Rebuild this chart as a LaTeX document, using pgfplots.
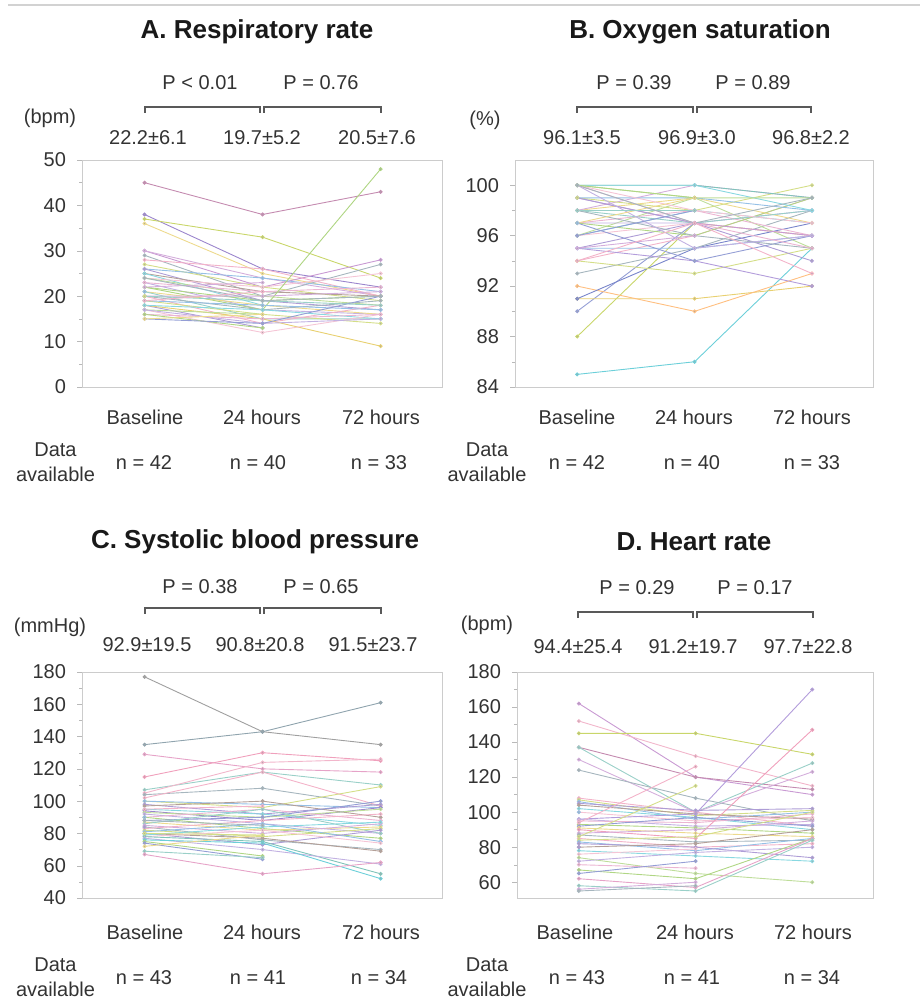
\documentclass[border=0pt]{standalone}
\usepackage{fontspec}
\setmainfont{Liberation Sans}
\usepackage{pgfplots}
\pgfplotsset{compat=1.18}
\definecolor{c1}{HTML}{E6A3C8}
\definecolor{c2}{HTML}{B39DDB}
\definecolor{c3}{HTML}{9CCC65}
\definecolor{c4}{HTML}{C9D66A}
\definecolor{c5}{HTML}{6CCFD9}
\definecolor{c6}{HTML}{7986CB}
\definecolor{c7}{HTML}{F0A0BC}
\definecolor{c8}{HTML}{A1887F}
\definecolor{c9}{HTML}{80C4BA}
\definecolor{c10}{HTML}{C99AD3}
\definecolor{c11}{HTML}{E8D070}
\definecolor{c12}{HTML}{90A4AE}
\definecolor{c13}{HTML}{AED581}
\definecolor{c14}{HTML}{F2B6CB}
\definecolor{c15}{HTML}{9A84CC}
\definecolor{c16}{HTML}{7AB0E0}
\definecolor{mauve}{HTML}{C48BB0}
\pgfplotscreateplotcyclelist{pat}{c1!80!white\\c3!80!white\\c6!80!white\\c11!80!white\\c9!80!white\\c10!80!white\\c12!80!white\\c7!80!white\\c4!80!white\\c16!80!white\\c15!80!white\\c8!80!white\\c5!80!white\\c14!80!white\\c13!80!white\\c2!80!white\\}
\newcommand\pat[4][]{\addplot+[#1] coordinates {(0,#2) (1,#3) (2,#4)};}
\pgfplotsset{panel/.style={scale only axis, xmin=-0.53, xmax=2.52, xtick=\empty,
  axis line style={gray!40}, tick style={gray!55}, tick align=outside,
  major tick length=2.5pt, minor tick length=1.5pt, ytick pos=left, minor y tick num=1,
  yticklabel style={font=\fontsize{10}{12}\selectfont, text=black!80, xshift=-2pt},
  /pgf/number format/assume math mode=true,
  cycle list name=pat,
  every axis plot post/.append style={line width=0.45pt, mark=*, mark size=0.75pt, mark options={draw=none, fill=gray!70}}}}
\tikzset{lab/.style={font=\fontsize{10}{12.5}\selectfont, text=black!80, inner sep=0pt, align=center},
  ttl/.style={font=\fontsize{13}{15}\selectfont\bfseries, text=black!90, inner sep=0pt},
  brk/.style={draw=black!65, line width=0.6pt}}
\begin{document}
\begin{tikzpicture}
\path (0,0) rectangle (460pt,499.5pt);
\draw[gray!35, line width=1pt] (4pt,497pt) -- (460pt,497pt);
% ---------------- A
\begin{axis}[panel, at={(41pt,306pt)}, anchor=south west, width=180pt, height=113.5pt,
  ymin=0, ymax=50, ytick={0,10,...,50}]
\pat[mauve]{45}{38}{43}
\pat[c15]{38}{26}{22}
\pat[c4]{37}{33}{24}
\pat{36}{25}{20}
\pat[c10]{30}{22}{28}
\pat{30}{24}{20}
\pat{29}{20}{27}
\pat{28}{26}{20}
\pat{27}{22}{19}
\pat{26}{24}{21}
\pat{26}{19}{17}
\pat{25}{21}{20}
\pat{25}{18}{nan}
\pat{24}{22}{25}
\pat{24}{20}{18}
\pat{23}{17}{16}
\pat{23}{21}{22}
\pat{22}{19}{20}
\pat[c13]{22}{17}{48}
\pat{21}{18}{16}
\pat{21}{15}{15}
\pat{20}{20}{21}
\pat{20}{17}{19}
\pat{20}{14}{18}
\pat{19}{16}{14}
\pat{19}{18}{17}
\pat{18}{13}{nan}
\pat[c11]{18}{15}{9}
\pat{18}{17}{15}
\pat{17}{12}{16}
\pat{17}{16}{nan}
\pat{17}{14}{15}
\pat{16}{15}{16}
\pat{16}{13}{nan}
\pat{15}{14}{20}
\pat{15}{16}{nan}
\pat{20}{19}{18}
\pat{22}{23}{nan}
\pat{24}{19}{20}
\pat{19}{21}{nan}
\pat{20}{nan}{nan}
\pat{21}{nan}{nan}
\end{axis}
% ---------------- B
\begin{axis}[panel, at={(257.5pt,306pt)}, anchor=south west, width=179pt, height=113.5pt,
  ymin=84, ymax=102, ytick={84,88,...,100}]
\pat[c5]{85}{86}{95}
\pat[c4]{88}{97}{96}
\pat{90}{97}{nan}
\pat[c11]{91}{91}{92}
\pat[orange!50]{92}{90}{93}
\pat[c6]{91}{95}{97}
\pat{93}{95}{98}
\pat{94}{96}{99}
\pat{94}{93}{95}
\pat{95}{95}{96}
\pat{95}{97}{94}
\pat[c2]{95}{94}{92}
\pat{96}{98}{97}
\pat{96}{97}{96}
\pat{96}{99}{95}
\pat{97}{97}{98}
\pat{97}{98}{96}
\pat{97}{96}{99}
\pat{97}{94}{96}
\pat{98}{99}{97}
\pat{98}{97}{98}
\pat{98}{100}{99}
\pat{98}{96}{95}
\pat[c10]{99}{97}{96}
\pat{99}{98}{100}
\pat{99}{99}{98}
\pat{99}{97}{nan}
\pat[c9]{100}{100}{99}
\pat{100}{100}{98}
\pat{100}{98}{97}
\pat{100}{99}{99}
\pat{100}{95}{96}
\pat{100}{97}{95}
\pat{100}{99}{nan}
\pat{96}{98}{nan}
\pat{97}{99}{nan}
\pat{98}{98}{nan}
\pat{95}{96}{nan}
\pat{100}{97}{99}
\pat{94}{97}{93}
\pat{99}{nan}{nan}
\pat{97}{nan}{nan}
\end{axis}
% ---------------- C
\begin{axis}[panel, at={(41pt,50.5pt)}, anchor=south west, width=180pt, height=113pt,
  ymin=40, ymax=180, ytick={40,60,...,180}]
\pat[gray!75]{177}{143}{135}
\pat[c12]{135}{143}{161}
\pat[c1]{129}{120}{118}
\pat[c7]{115}{130}{125}
\pat{107}{118}{110}
\pat[c14]{105}{124}{126}
\pat{104}{108}{97}
\pat{102}{118}{97}
\pat{100}{96}{109}
\pat{100}{98}{96}
\pat{98}{92}{98}
\pat{97}{100}{90}
\pat{95}{92}{85}
\pat[c15]{94}{88}{96}
\pat{93}{90}{95}
\pat{92}{86}{80}
\pat{90}{95}{88}
\pat{90}{83}{77}
\pat{88}{90}{100}
\pat{87}{82}{84}
\pat{86}{95}{80}
\pat{85}{80}{86}
\pat{84}{76}{70}
\pat{83}{88}{92}
\pat{82}{78}{83}
\pat{81}{86}{75}
\pat{80}{73}{82}
\pat{80}{77}{69}
\pat{79}{84}{87}
\pat{78}{82}{74}
\pat[c9]{78}{75}{55}
\pat{77}{70}{61}
\pat[c5]{76}{74}{52}
\pat{75}{66}{nan}
\pat{74}{64}{nan}
\pat{72}{79}{nan}
\pat{69}{65}{nan}
\pat[c1]{67}{55}{62}
\pat{88}{85}{nan}
\pat{95}{97}{nan}
\pat{80}{79}{nan}
\pat{90}{nan}{nan}
\pat{84}{nan}{nan}
\end{axis}
% ---------------- D
\begin{axis}[panel, at={(258.5pt,50.5pt)}, anchor=south west, width=178pt, height=113pt,
  ymin=51, ymax=180, ytick={60,80,...,180}]
\pat[c10]{162}{120}{110}
\pat[c14]{152}{132}{115}
\pat[c4]{145}{145}{133}
\pat[mauve]{137}{120}{113}
\pat{137}{100}{128}
\pat{130}{100}{123}
\pat{124}{108}{95}
\pat{108}{100}{92}
\pat{107}{98}{101}
\pat{106}{96}{100}
\pat{105}{101}{102}
\pat{104}{99}{96}
\pat{102}{97}{90}
\pat{100}{95}{97}
\pat[c2]{96}{99}{170}
\pat{96}{92}{93}
\pat{95}{94}{99}
\pat{93}{91}{88}
\pat{92}{97}{92}
\pat{91}{88}{86}
\pat[c7]{90}{85}{147}
\pat{88}{90}{95}
\pat{87}{83}{84}
\pat{85}{80}{82}
\pat{84}{86}{100}
\pat{83}{78}{85}
\pat{82}{80}{74}
\pat{80}{82}{90}
\pat{78}{75}{72}
\pat{76}{79}{nan}
\pat{74}{65}{60}
\pat{72}{77}{80}
\pat{70}{68}{nan}
\pat{67}{62}{85}
\pat{65}{72}{nan}
\pat[c1]{62}{57}{85}
\pat{58}{55}{84}
\pat{56}{60}{nan}
\pat{55}{58}{nan}
\pat{94}{126}{nan}
\pat{86}{115}{nan}
\pat{100}{nan}{nan}
\pat{80}{nan}{nan}
\end{axis}
% ---------------- texts A
\node[ttl] at (128.5pt,483.5pt) {A. Respiratory rate};
\node[lab] at (100pt,458pt) {P < 0.01};
\node[lab] at (160.5pt,458pt) {P = 0.76};
\draw[brk] (72.5pt,443pt) |- (130pt,446pt) -- (130pt,443pt);
\draw[brk] (132pt,443pt) |- (190.5pt,446pt) -- (190.5pt,443pt);
\node[lab] at (25pt,440.5pt) {(bpm)};
\node[lab] at (74pt,430.5pt) {22.2±6.1};
\node[lab] at (131pt,430.5pt) {19.7±5.2};
\node[lab] at (188.5pt,430.5pt) {20.5±7.6};
\node[lab] at (72.5pt,291pt) {Baseline};
\node[lab] at (131pt,291pt) {24 hours};
\node[lab] at (190.5pt,291pt) {72 hours};
\node[lab] at (27.75pt,268.25pt) {Data\\available};
\node[lab] at (72pt,268pt) {n = 42};
\node[lab] at (129pt,268pt) {n = 40};
\node[lab] at (189.5pt,268pt) {n = 33};
% ---------------- texts B
\node[ttl] at (350pt,483.5pt) {B. Oxygen saturation};
\node[lab] at (317pt,458pt) {P = 0.39};
\node[lab] at (376.5pt,458pt) {P = 0.89};
\draw[brk] (288.5pt,443pt) |- (346.5pt,446pt) -- (346.5pt,443pt);
\draw[brk] (348.5pt,443pt) |- (405.5pt,446pt) -- (405.5pt,443pt);
\node[lab] at (242.5pt,439.5pt) {(\%)};
\node[lab] at (291pt,430.5pt) {96.1±3.5};
\node[lab] at (348.5pt,430.5pt) {96.9±3.0};
\node[lab] at (405.5pt,430.5pt) {96.8±2.2};
\node[lab] at (288.5pt,291pt) {Baseline};
\node[lab] at (347pt,291pt) {24 hours};
\node[lab] at (406pt,291pt) {72 hours};
\node[lab] at (243.5pt,268.25pt) {Data\\available};
\node[lab] at (288.5pt,268pt) {n = 42};
\node[lab] at (346pt,268pt) {n = 40};
\node[lab] at (406pt,268pt) {n = 33};
% ---------------- texts C
\node[ttl] at (127.5pt,228.5pt) {C. Systolic blood pressure};
\node[lab] at (100pt,206pt) {P = 0.38};
\node[lab] at (160.5pt,206pt) {P = 0.65};
\draw[brk] (72.5pt,192.5pt) |- (130pt,195.5pt) -- (130pt,192.5pt);
\draw[brk] (132pt,192.5pt) |- (190.5pt,195.5pt) -- (190.5pt,192.5pt);
\node[lab] at (25pt,186pt) {(mmHg)};
\node[lab] at (73.5pt,177pt) {92.9±19.5};
\node[lab] at (130pt,177pt) {90.8±20.8};
\node[lab] at (186.5pt,177pt) {91.5±23.7};
\node[lab] at (72.5pt,33.5pt) {Baseline};
\node[lab] at (131pt,33.5pt) {24 hours};
\node[lab] at (190.5pt,33.5pt) {72 hours};
\node[lab] at (27.75pt,10.75pt) {Data\\available};
\node[lab] at (72pt,10.5pt) {n = 43};
\node[lab] at (129pt,10.5pt) {n = 41};
\node[lab] at (189.5pt,10.5pt) {n = 34};
% ---------------- texts D
\node[ttl] at (347pt,228.5pt) {D. Heart rate};
\node[lab] at (318.5pt,205.5pt) {P = 0.29};
\node[lab] at (377.5pt,205.5pt) {P = 0.17};
\draw[brk] (289pt,190.5pt) |- (346.5pt,193.5pt) -- (346.5pt,190.5pt);
\draw[brk] (348.5pt,190.5pt) |- (406.5pt,193.5pt) -- (406.5pt,190.5pt);
\node[lab] at (243.5pt,187pt) {(bpm)};
\node[lab] at (289pt,176pt) {94.4±25.4};
\node[lab] at (346.5pt,176pt) {91.2±19.7};
\node[lab] at (404pt,176pt) {97.7±22.8};
\node[lab] at (287.5pt,33.5pt) {Baseline};
\node[lab] at (347.5pt,33.5pt) {24 hours};
\node[lab] at (406.5pt,33.5pt) {72 hours};
\node[lab] at (243.5pt,10.75pt) {Data\\available};
\node[lab] at (288.5pt,10.5pt) {n = 43};
\node[lab] at (346pt,10.5pt) {n = 41};
\node[lab] at (406pt,10.5pt) {n = 34};
\end{tikzpicture}
\end{document}
